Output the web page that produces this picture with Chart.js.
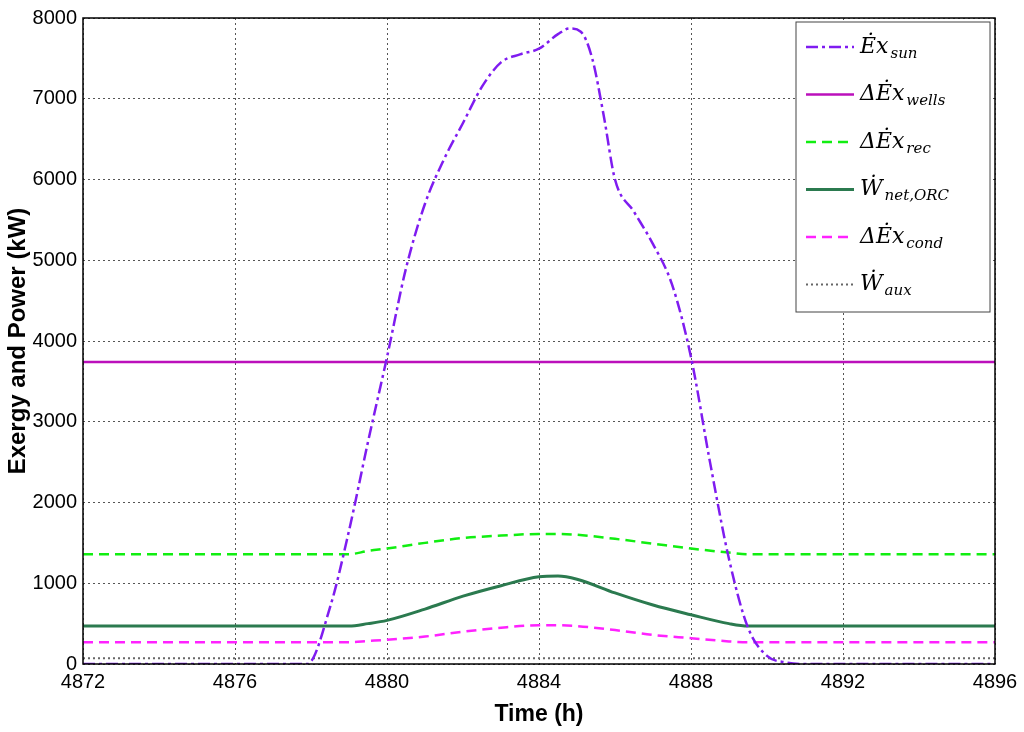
<!DOCTYPE html>
<html><head><meta charset="utf-8">
<script src="https://cdn.jsdelivr.net/npm/chart.js@4/dist/chart.umd.min.js"></script>
<style>html,body{margin:0;background:#fff}#wrap{width:1024px;height:732px}</style>
</head><body><div id="wrap"><canvas id="c"></canvas></div>
<script>
// time (h) and series values (kW)
const sunT = [4872,4877.9,4878.5,4879,4879.5,4880,4880.5,4881,4881.5,4882,4882.5,4883,4883.5,4884,4884.5,4884.8,4885.1,4885.4,4885.7,4886,4886.5,4887,4887.5,4888,4888.5,4889,4889.5,4890,4890.5,4891,4896];
const sunV = [0,0,700,1650,2750,3800,4900,5700,6250,6700,7150,7450,7550,7620,7800,7870,7830,7500,6800,6000,5600,5200,4700,3800,2500,1300,450,100,20,0,0];
const curT = [4872,4879,4879.5,4880,4881,4882,4883,4884,4884.5,4885,4886,4887,4888,4889,4889.5,4896];
const recV = [1360,1360,1400,1430,1500,1560,1590,1610,1610,1600,1550,1490,1430,1380,1360,1360];
const netV = [470,470,500,540,680,840,970,1080,1090,1050,880,730,610,500,470,470];
const condV = [270,270,285,300,340,400,450,480,480,470,420,360,320,280,270,270];
const wellsV = 3740;
const auxV = 70;
const xTicks = [4872,4876,4880,4884,4888,4892,4896];

const pts = (t, v) => t.map((x, i) => ({x, y: v[i]}));
const flat = v => [{x:4872,y:v},{x:4896,y:v}];

const series = [
  {data: pts(sunT, sunV), color:'#7f1cf0', dash:[12,4,3,4], width:2.5, name:['Ėx','sun']},
  {data: flat(wellsV), color:'#bb10bb', dash:[], width:2.5, name:['ΔĖx','wells']},
  {data: pts(curT, recV), color:'#11ee11', dash:[10,6], width:2.5, name:['ΔĖx','rec']},
  {data: pts(curT, netV), color:'#2b7a4f', dash:[], width:3, name:['Ẇ','net,ORC']},
  {data: pts(curT, condV), color:'#ff22ff', dash:[10,6], width:2.5, name:['ΔĖx','cond']},
  {data: flat(auxV), color:'#666666', dash:[2,3], width:2, name:['Ẇ','aux']}
];

const legendBox = {
  id: 'legendBox',
  afterDraw(chart) {
    const ctx = chart.ctx, a = chart.chartArea;
    ctx.save();
    ctx.strokeStyle = '#000'; ctx.lineWidth = 1.5;
    ctx.strokeRect(a.left, a.top, a.right - a.left, a.bottom - a.top);
    const bx = 796, by = 22, bw = 194, bh = 290;
    ctx.fillStyle = '#fff'; ctx.fillRect(bx, by, bw, bh);
    ctx.strokeStyle = '#444'; ctx.lineWidth = 1; ctx.strokeRect(bx, by, bw, bh);
    series.forEach((s, i) => {
      const y = by + 25 + i * 47.5;
      ctx.strokeStyle = s.color; ctx.lineWidth = s.width; ctx.setLineDash(s.dash);
      ctx.beginPath(); ctx.moveTo(bx + 10, y); ctx.lineTo(bx + 58, y); ctx.stroke();
      ctx.setLineDash([]);
      ctx.fillStyle = '#000'; ctx.textBaseline = 'middle';
      ctx.font = 'italic 22px "DejaVu Serif", serif';
      ctx.fillText(s.name[0], bx + 64, y);
      const w = ctx.measureText(s.name[0]).width;
      ctx.font = 'italic 15px "DejaVu Serif", serif';
      ctx.fillText(s.name[1], bx + 66 + w, y + 7);
    });
    ctx.restore();
  }
};

new Chart(document.getElementById('c'), {
  type: 'line',
  data: {datasets: series.map(s => ({data: s.data, borderColor: s.color, borderDash: s.dash, borderWidth: s.width, pointRadius: 0, cubicInterpolationMode: 'monotone', fill: false}))},
  options: {
    responsive: true, maintainAspectRatio: false, animation: false,
    layout: {padding: {top: 12, right: 29, left: 0, bottom: 0}},
    plugins: {legend: {display: false}, tooltip: {enabled: false}},
    scales: {
      x: {
        type: 'linear', min: 4872, max: 4896,
        afterBuildTicks: s => { s.ticks = xTicks.map(v => ({value: v})); },
        afterFit: s => { s.height = 68; },
        grid: {color: '#555', drawTicks: false},
        border: {display: false, dash: [2,3]},
        ticks: {color: '#000', font: {size: 20, family: 'Liberation Sans'}, padding: 6, maxRotation: 0, callback: v => String(v)},
        title: {display: true, text: 'Time (h)', color: '#000', font: {size: 23, weight: 'bold', family: 'Liberation Sans'}, padding: {top: -4}}
      },
      y: {
        min: 0, max: 8000,
        afterFit: s => { s.width = 83; },
        grid: {color: '#555', drawTicks: false},
        border: {display: false, dash: [2,3]},
        ticks: {stepSize: 1000, color: '#000', font: {size: 20, family: 'Liberation Sans'}, padding: 6, callback: v => String(v)},
        title: {display: true, text: 'Exergy and Power (kW)', color: '#000', font: {size: 24, weight: 'bold', family: 'Liberation Sans'}, padding: {bottom: 0}}
      }
    }
  },
  plugins: [legendBox]
});
</script></body></html>
